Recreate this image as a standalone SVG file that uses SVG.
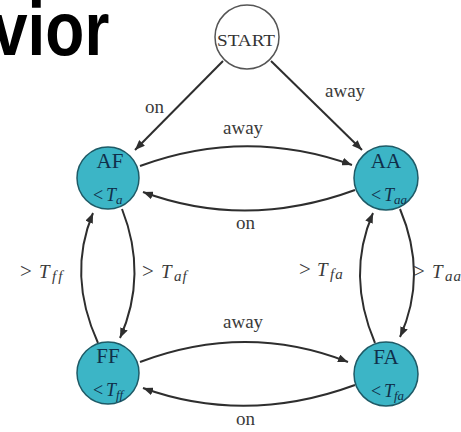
<svg xmlns="http://www.w3.org/2000/svg" width="461" height="432" viewBox="0 0 461 432">
<style>
.title{font-family:"Liberation Sans",Arial,sans-serif;font-weight:bold;fill:#000}
.lbl{font-family:"Liberation Serif","Times New Roman",serif;font-size:19px;fill:#3a3a3a}
.gl{font-family:"Liberation Serif","Times New Roman",serif;font-size:19px;fill:#3a3a3a}
.gt{font-size:21px}
.st{fill:#3cb5c6;stroke:#1e5a66;stroke-width:1.5}
.nt{font-family:"Liberation Serif","Times New Roman",serif;font-size:21px;fill:#102f4a;text-anchor:middle}
.ns{font-family:"Liberation Serif","Times New Roman",serif;font-size:18px;fill:#102f4a}
.edge{fill:none;stroke:#2e2e2e;stroke-width:2}
.it{font-style:italic}
</style>
<defs>
<marker id="ah" viewBox="0 0 10 8" refX="10" refY="4" markerWidth="10" markerHeight="8" markerUnits="userSpaceOnUse" orient="auto">
<path d="M0,0 L10,4 L0,8 z" fill="#2e2e2e"/>
</marker>
<clipPath id="cAF"><circle cx="108" cy="178" r="31"/></clipPath>
<clipPath id="cAA"><circle cx="386" cy="178" r="32"/></clipPath>
<clipPath id="cFF"><circle cx="108" cy="373" r="31"/></clipPath>
<clipPath id="cFA"><circle cx="386" cy="374" r="32"/></clipPath>
</defs>
<rect width="461" height="432" fill="#fff"/>
<text class="title" font-size="64" transform="translate(-8,55) scale(1,1.18)">vior</text>

<g id="connectors">
<path class="edge" d="M223,61 L135,150" marker-end="url(#ah)"/>
<path class="edge" d="M271,61 L362,150" marker-end="url(#ah)"/>
<path class="edge" d="M140,166 Q246,127 352,165" marker-end="url(#ah)"/>
<path class="edge" d="M355,190 Q246,230 143,192" marker-end="url(#ah)"/>
<path class="edge" d="M122,209 Q148,275 120,338" marker-end="url(#ah)"/>
<path class="edge" d="M98,343 Q67,275 93,213" marker-end="url(#ah)"/>
<path class="edge" d="M400,209 Q428,275 400,337" marker-end="url(#ah)"/>
<path class="edge" d="M375,343 Q346,275 373,213" marker-end="url(#ah)"/>
<path class="edge" d="M140,362 Q246,322 348,362" marker-end="url(#ah)"/>
<path class="edge" d="M355,385 Q246,425 143,388" marker-end="url(#ah)"/>
<text class="lbl" x="145" y="113">on</text>
<text class="lbl" x="325" y="97">away</text>
<text class="lbl" x="223" y="134">away</text>
<text class="lbl" x="236" y="229">on</text>
<text class="lbl" x="223" y="328">away</text>
<text class="lbl" x="236" y="425">on</text>
<text class="gl" y="278"><tspan class="gt" x="20">&gt;</tspan><tspan class="it" x="39">T</tspan><tspan class="it" x="52" dy="3" font-size="15" letter-spacing="2">ff</tspan></text>
<text class="gl" y="278"><tspan class="gt" x="142">&gt;</tspan><tspan class="it" x="161">T</tspan><tspan class="it" x="174" dy="3" font-size="15" letter-spacing="1">af</tspan></text>
<text class="gl" y="276"><tspan class="gt" x="299">&gt;</tspan><tspan class="it" x="317">T</tspan><tspan class="it" x="330" dy="3" font-size="15" letter-spacing="1">fa</tspan></text>
<text class="gl" y="278"><tspan class="gt" x="413">&gt;</tspan><tspan class="it" x="432">T</tspan><tspan class="it" x="445" dy="3" font-size="15" letter-spacing="1">aa</tspan></text>
</g>

<g id="START">
<circle cx="247" cy="37" r="32" fill="#fff" stroke="#555" stroke-width="1.5"/>
<text x="246" y="46" font-family="'Liberation Serif','Times New Roman',serif" font-size="17" fill="#333" text-anchor="middle" textLength="58" lengthAdjust="spacingAndGlyphs">START</text>
</g>
<g id="AF">
<circle class="st" cx="108" cy="178" r="31"/>
<g clip-path="url(#cAF)">
<text class="nt" x="110" y="168">AF</text>
<text class="ns" y="201"><tspan x="93">&lt;</tspan><tspan class="it" x="106">T</tspan><tspan class="it" x="116" dy="3" font-size="13">a</tspan></text>
</g>
</g>
<g id="AA">
<circle class="st" cx="386" cy="178" r="32"/>
<g clip-path="url(#cAA)">
<text class="nt" x="386" y="168">AA</text>
<text class="ns" y="201"><tspan x="371">&lt;</tspan><tspan class="it" x="384">T</tspan><tspan class="it" x="394" dy="3" font-size="13">aa</tspan></text>
</g>
</g>
<g id="FF">
<circle class="st" cx="108" cy="373" r="31"/>
<g clip-path="url(#cFF)">
<text class="nt" x="108" y="363">FF</text>
<text class="ns" y="396"><tspan x="93">&lt;</tspan><tspan class="it" x="106">T</tspan><tspan class="it" x="116" dy="3" font-size="13">ff</tspan></text>
</g>
</g>
<g id="FA">
<circle class="st" cx="386" cy="374" r="32"/>
<g clip-path="url(#cFA)">
<text class="nt" x="386" y="364">FA</text>
<text class="ns" y="397"><tspan x="371">&lt;</tspan><tspan class="it" x="384">T</tspan><tspan class="it" x="394" dy="3" font-size="13">fa</tspan></text>
</g>
</g>
</svg>
